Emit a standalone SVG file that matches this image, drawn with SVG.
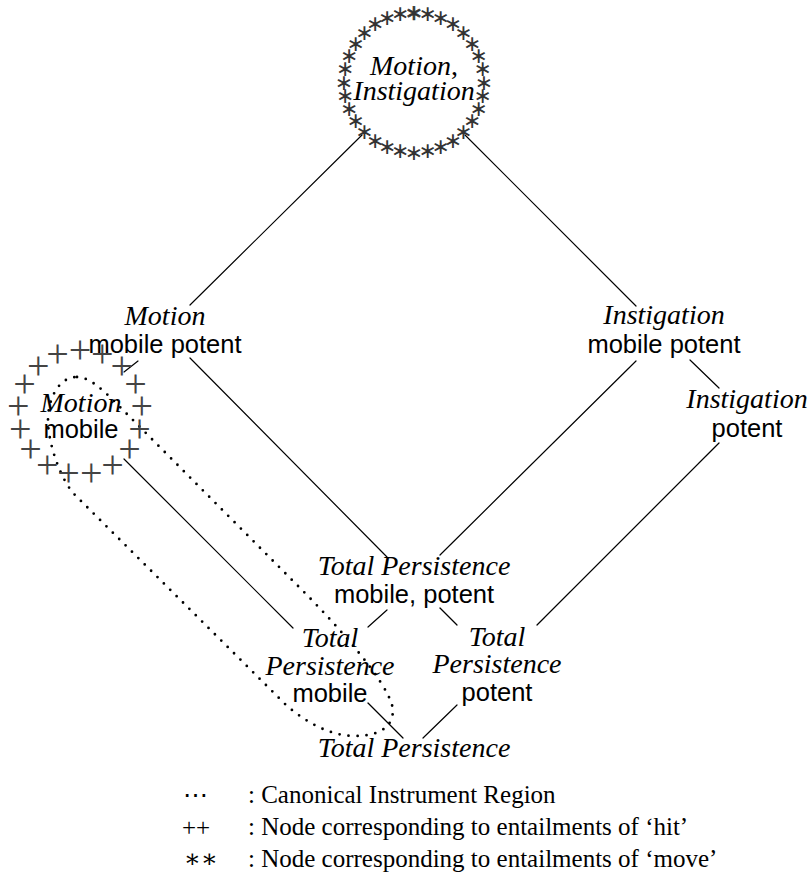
<svg xmlns="http://www.w3.org/2000/svg" width="811" height="885" viewBox="0 0 811 885">
<style>
.it{font-family:"Liberation Serif","DejaVu Serif",serif;font-style:italic;font-size:28px;fill:#000;text-anchor:middle}
.sn{font-family:"Liberation Sans","DejaVu Sans",sans-serif;font-size:25.5px;fill:#000;text-anchor:middle}
.lg{font-family:"Liberation Serif","DejaVu Serif",serif;font-size:25px;fill:#000}
.pl{font-family:"Liberation Serif","DejaVu Serif",serif;font-size:40px;fill:#444;text-anchor:middle}
.as{font-family:"DejaVu Sans",sans-serif;font-size:22px;fill:#333;text-anchor:middle}
.ln{stroke:#000;stroke-width:1.2;fill:none;stroke-linecap:round}
.dot{stroke:#000;stroke-width:2.8;fill:none;stroke-linecap:round;stroke-dasharray:0 9}
</style>
<g id="connectors">
<line class="ln" x1="362" y1="135" x2="190" y2="305"/>
<line class="ln" x1="465" y1="135" x2="636" y2="306"/>
<line class="ln" x1="190" y1="358" x2="387" y2="557"/>
<line class="ln" x1="138" y1="361" x2="124" y2="372"/>
<line class="ln" x1="124" y1="459" x2="293" y2="628"/>
<line class="ln" x1="636" y1="361" x2="440" y2="555"/>
<line class="ln" x1="690" y1="360" x2="719" y2="388"/>
<line class="ln" x1="719" y1="443" x2="537" y2="625"/>
<line class="ln" x1="387" y1="610" x2="368" y2="627"/>
<line class="ln" x1="440" y1="608" x2="457" y2="625"/>
<line class="ln" x1="368" y1="703" x2="403" y2="738"/>
<line class="ln" x1="457" y1="705" x2="423" y2="738"/>
</g>
<g id="region">
<path class="dot" d="M77,377 C88,377 100,387 115,402 L300,588 C340,628 385,680 392,705 C396,722 385,736 355,736 C330,736 305,722 285,704 L75,495 C62,482 48,445 48,420 C48,400 58,377 77,377 Z"/>
</g>
<g id="node-motion-instigation">
<g class="as">
<text x="414" y="19.5" style="stroke:#333;stroke-width:0.6">∗</text>
<text x="427.7" y="20.8">∗</text><text x="440.8" y="24.8">∗</text><text x="452.9" y="31.3">∗</text><text x="463.5" y="40">∗</text>
<text x="472.2" y="50.6">∗</text><text x="478.7" y="62.7">∗</text><text x="482.7" y="75.8">∗</text><text x="484" y="89.5">∗</text>
<text x="482.7" y="103.2">∗</text><text x="478.7" y="116.3">∗</text><text x="472.2" y="128.4">∗</text><text x="463.5" y="139">∗</text>
<text x="452.9" y="147.7">∗</text><text x="440.8" y="154.2">∗</text><text x="427.7" y="158.2">∗</text><text x="414" y="159.5">∗</text>
<text x="400.3" y="158.2">∗</text><text x="387.2" y="154.2">∗</text><text x="375.1" y="147.7">∗</text><text x="364.5" y="139">∗</text>
<text x="355.8" y="128.4">∗</text><text x="349.3" y="116.3">∗</text><text x="345.3" y="103.2">∗</text><text x="344" y="89.5">∗</text>
<text x="345.3" y="75.8">∗</text><text x="349.3" y="62.7">∗</text><text x="355.8" y="50.6">∗</text><text x="364.5" y="40">∗</text>
<text x="375.1" y="31.3">∗</text><text x="387.2" y="24.8">∗</text><text x="400.3" y="20.8">∗</text>
</g>
<text class="it" x="414" y="75"><tspan font-style="italic">Motion</tspan><tspan font-style="normal">,</tspan></text>
<text class="it" x="414" y="100">Instigation</text>
</g>
<g id="node-motion-mobile-potent">
<text class="it" x="165" y="325">Motion</text>
<text class="sn" x="165" y="353">mobile potent</text>
</g>
<g id="node-instigation-mobile-potent">
<text class="it" x="664" y="324">Instigation</text>
<text class="sn" x="664" y="353">mobile potent</text>
</g>
<g id="node-motion-mobile">
<g class="pl">
<text x="80" y="363">+</text><text x="102.4" y="367.2">+</text><text x="121.8" y="379.2">+</text><text x="135.5" y="397.4">+</text>
<text x="141.7" y="419.3">+</text><text x="139.6" y="442">+</text><text x="129.5" y="462.4">+</text><text x="112.6" y="477.7">+</text>
<text x="91.4" y="485.9">+</text><text x="68.6" y="485.9">+</text><text x="47.4" y="477.7">+</text><text x="30.5" y="462.4">+</text>
<text x="20.4" y="442">+</text><text x="18.3" y="419.3">+</text><text x="24.5" y="397.4">+</text><text x="38.2" y="379.2">+</text>
<text x="57.6" y="367.2">+</text>
</g>
<text class="it" x="81" y="412">Motion</text>
<text class="sn" x="81" y="438">mobile</text>
</g>
<g id="node-instigation-potent">
<text class="it" x="747" y="408">Instigation</text>
<text class="sn" x="747" y="437">potent</text>
</g>
<g id="node-tp-mobile-potent">
<text class="it" x="414" y="575">Total Persistence</text>
<text class="sn" x="414" y="603">mobile, potent</text>
</g>
<g id="node-tp-mobile">
<text class="it" x="330" y="647">Total</text>
<text class="it" x="330" y="675">Persistence</text>
<text class="sn" x="330" y="702">mobile</text>
</g>
<g id="node-tp-potent">
<text class="it" x="497" y="646">Total</text>
<text class="it" x="497" y="673">Persistence</text>
<text class="sn" x="497" y="701">potent</text>
</g>
<g id="node-tp">
<text class="it" x="414" y="757">Total Persistence</text>
</g>
<g id="legend">
<text class="lg" x="183" y="803">⋯</text>
<text class="lg" x="248" y="803">: Canonical Instrument Region</text>
<text class="lg" x="182" y="836" font-size="32" fill="#333">++</text>
<text class="lg" x="248" y="835">: Node corresponding to entailments of ‘hit’</text>
<text class="lg" x="184" y="867" font-family="DejaVu Sans" font-size="21" fill="#222">∗∗</text>
<text class="lg" x="248" y="867">: Node corresponding to entailments of ‘move’</text>
</g>
</svg>
